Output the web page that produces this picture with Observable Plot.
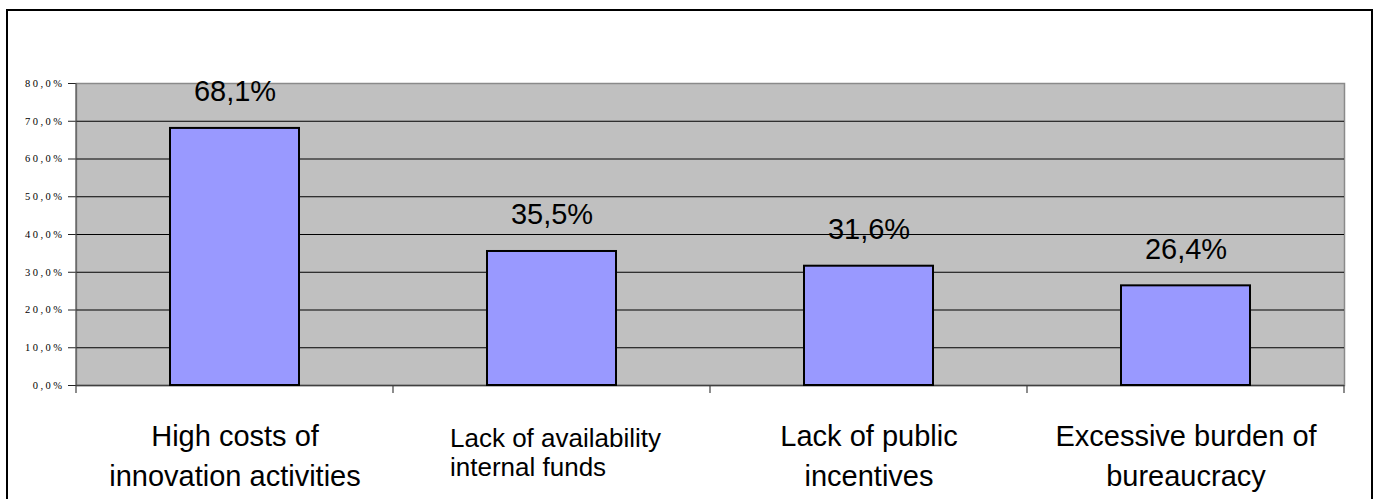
<!DOCTYPE html>
<html>
<head>
<meta charset="utf-8">
<script src="https://cdn.jsdelivr.net/npm/d3@7"></script>
<script src="https://cdn.jsdelivr.net/npm/@observablehq/plot@0.6"></script>
<style>
  html, body { margin: 0; padding: 0; background: #fff; overflow: hidden; }
  #chart { position: relative; width: 1378px; height: 499px; }
  #chart svg { position: absolute; left: 0; top: 0; }
  #edge { position: absolute; left: 6px; top: 9px; width: 1363px; height: 600px;
          border: 2px solid #000; border-bottom: none; pointer-events: none; }
  g[aria-label="y-axis tick label"] text { letter-spacing: 2.5px; }
</style>
</head>
<body>
<div id="chart"></div>
<script>
// Obstacles to innovation: share of firms citing each factor (%)
const categories = [
  "High costs of\ninnovation activities",
  "Lack of availability\ninternal funds",
  "Lack of public\nincentives",
  "Excessive burden of\nbureaucracy"
];
const shares = [68.1, 35.5, 31.6, 26.4];
const yTicks = [0, 10, 20, 30, 40, 50, 60, 70, 80];
const gridTicks = [10, 20, 30, 40, 50, 60, 70];

const data = categories.map((c, i) => ({category: c, share: shares[i]}));
const pct = d => d.toFixed(1).replace(".", ",") + "%";

// the second label is set smaller and left-aligned in its slot
const wideLabels = categories.filter((c, i) => i !== 1);
const narrowLabels = categories.filter((c, i) => i === 1);

// short tick marks at the category boundaries plus the left axis line
function categoryTicks(index, scales) {
  const x = scales.x, y = scales.y;
  const bw = typeof x.bandwidth === "function" ? x.bandwidth() : (scales.scales?.x?.bandwidth ?? 0);
  const step = x(categories[1]) - x(categories[0]);
  const xs = categories.map(c => x(c) + bw / 2 - step / 2);
  xs.push(xs[xs.length - 1] + step);
  const y0 = y(0);
  const g = d3.create("svg:g");
  g.append("line")
    .attr("x1", xs[0]).attr("x2", xs[0])
    .attr("y1", y(yTicks[yTicks.length - 1])).attr("y2", y0)
    .attr("stroke", "#555").attr("stroke-width", 1.2);
  g.selectAll("line.tick").data(xs).join("line")
    .attr("class", "tick")
    .attr("x1", d => d).attr("x2", d => d)
    .attr("y1", y0).attr("y2", y0 + 8)
    .attr("stroke", "#404040").attr("stroke-width", 1.2);
  return g.node();
}

const plot = Plot.plot({
  width: 1378,
  height: 499,
  marginLeft: 76,
  marginRight: 34,
  marginTop: 83,
  marginBottom: 114,
  style: {background: "transparent"},
  x: {domain: categories, paddingInner: 0.593, paddingOuter: 0.2965, axis: null},
  y: {domain: [0, 80], axis: null, label: null},
  marks: [
    Plot.frame({fill: "#c0c0c0", stroke: "#8a8a8a", strokeWidth: 1.5}),
    Plot.gridY(gridTicks, {stroke: "#000", strokeOpacity: 1, strokeWidth: 1}),
    Plot.ruleY([0], {stroke: "#404040", strokeWidth: 1.5}),
    Plot.barY(data, {x: "category", y: "share", fill: "#9999ff", stroke: "#000", strokeWidth: 2}),
    Plot.text(data, {
      x: "category", y: "share", text: d => pct(d.share),
      dy: -27, lineAnchor: "bottom",
      fontSize: 29, fontFamily: "Liberation Sans, Arial, sans-serif", fill: "#000"
    }),
    Plot.axisY(yTicks, {
      label: null,
      tickSize: 8, tickPadding: 4, tickFormat: pct,
      fontSize: 10.5, fontFamily: "Liberation Serif, Times New Roman, serif",
      stroke: "#222", fill: "#000"
    }),
    categoryTicks,
    Plot.text(wideLabels, {
      x: d => d, text: d => d, frameAnchor: "bottom",
      lineAnchor: "top", dy: 32, lineHeight: 1.38,
      fontSize: 29, fontFamily: "Liberation Sans, Arial, sans-serif", fill: "#000"
    }),
    Plot.text(narrowLabels, {
      x: d => d, text: d => d, frameAnchor: "bottom",
      lineAnchor: "top", dy: 40, dx: -102, textAnchor: "start", lineHeight: 1.14,
      fontSize: 26, fontFamily: "Liberation Sans, Arial, sans-serif", fill: "#000"
    })
  ]
});

const chart = document.getElementById("chart");
chart.append(plot);
const edge = document.createElement("div");
edge.id = "edge";
chart.append(edge);
</script>
</body>
</html>
